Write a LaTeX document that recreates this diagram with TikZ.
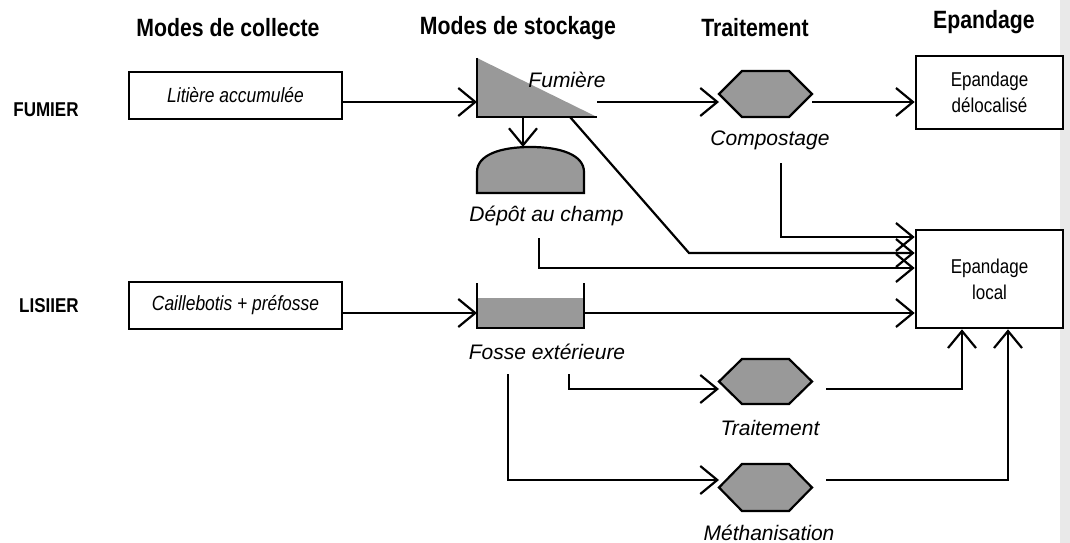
\documentclass[tikz,border=0pt]{standalone}
\usepackage{fontspec}
\setmainfont{Liberation Sans}
\newfontfamily\nf[FakeStretch=0.85]{Liberation Sans}
\usetikzlibrary{arrows.meta}
\definecolor{shapegray}{RGB}{153,153,153}
\definecolor{stripgray}{RGB}{233,233,233}
\tikzset{
  conn/.style={line width=2.2pt},
  arr/.style={line width=2.2pt,-{Straight Barb[length=17pt,width=28pt,line width=2.2pt]}},
  boxnode/.style={draw,line width=2.6pt,fill=white,inner sep=0pt},
  ghost/.style={inner sep=0pt,outer sep=0pt},
  header/.style={font=\nf\bfseries\fontsize{25}{28}\selectfont},
  sidelab/.style={font=\nf\bfseries\fontsize{20}{24}\selectfont},
  boxtext/.style={font=\nf\itshape\fontsize{20.5}{24}\selectfont},
  eptext/.style={font=\nf\fontsize{20}{26}\selectfont,align=center},
  lab/.style={font=\itshape\fontsize{21}{25}\selectfont},
  shapeline/.style={line width=2.2pt,line join=miter},
}
\begin{document}
\begin{tikzpicture}[x=1pt,y=-1pt]
\useasboundingbox (0,0) rectangle (1070,543);
\fill[stripgray] (1060,0) rectangle (1070,543);

% headers
\node[header] (hcol) at (228,28) {Modes de collecte};
\node[header] (hsto) at (518,28) {Modes de stockage};
\node[header] (htra) at (755,28) {Traitement};
\node[header] (hepa) at (984,22) {Epandage};

% side labels
\node[sidelab] (fum) at (46,110) {FUMIER};
\node[sidelab] (lis) at (49,306) {LISIIER};

% collection boxes
\node[boxnode,minimum width=213pt,minimum height=47pt,boxtext] (lit) at (235.5,95.5) {Litière accumulée};
\node[boxnode,minimum width=213pt,minimum height=47pt,boxtext] (cail) at (235.5,305.5) {Caillebotis + préfosse};

% spreading boxes
\node[boxnode,minimum width=147pt,minimum height=73pt,eptext] (deloc) at (989.5,92.5) {Epandage\\délocalisé};
\node[boxnode,minimum width=147pt,minimum height=98pt,eptext] (local) at (989.5,279) {Epandage\\local};

% shape holders
\node[ghost,minimum width=120pt,minimum height=59pt] (fumiere) at (537,87.5) {};
\node[ghost,minimum width=107pt,minimum height=46pt] (depot) at (530.5,170) {};
\node[ghost,minimum width=107pt,minimum height=45pt] (fosse) at (530.5,305.5) {};
\node[ghost,minimum width=93pt,minimum height=46pt] (comp) at (765.5,94) {};
\node[ghost,minimum width=93pt,minimum height=45pt] (trait) at (765.5,381.5) {};
\node[ghost,minimum width=93pt,minimum height=47pt] (meth) at (765.5,487.5) {};

% triangle (fumiere)
\fill[shapegray] (fumiere.north west) -- (fumiere.south west) -- (fumiere.south east) -- cycle;
\draw[shapeline] (fumiere.north west) -- (fumiere.south west) -- (fumiere.south east);

% dome (depot)
\draw[shapeline,fill=shapegray] (depot.south west) -- (477,172) .. controls (477,155) and (500,147) .. (530.5,147) .. controls (561,147) and (584,155) .. (584,172) -- (depot.south east) -- cycle;

% pit (fosse)
\fill[shapegray] (477,298) rectangle (fosse.south east);
\draw[shapeline] (fosse.north west) -- (fosse.south west) -- (fosse.south east) -- (fosse.north east);

% hexagons
\foreach \h in {comp,trait,meth}{
  \draw[shapeline,fill=shapegray] (\h.west) -- ([xshift=23pt]\h.north west) -- ([xshift=-23pt]\h.north east) -- (\h.east) -- ([xshift=-23pt]\h.south east) -- ([xshift=23pt]\h.south west) -- cycle;
}

% labels
\node[lab] (lfum) at (567,80) {Fumière};
\node[lab] (ldep) at (546.5,216) {Dépôt au champ};
\node[lab] (lfos) at (547,352) {Fosse extérieure};
\node[lab] (lcomp) at (770,140) {Compostage};
\node[lab] (ltrait) at (770,428) {Traitement};
\node[lab] (lmeth) at (769,533) {Méthanisation};

% free ends
\coordinate (compout) at (781,163);
\coordinate (depout) at (539,238);
\coordinate (fosA) at (569,374);
\coordinate (fosB) at (508,374);
\coordinate (traitout) at (826,389);
\coordinate (methout) at (826,480);
\coordinate (diag) at (689,253);

% connectors
\draw[arr] (lit.east |- 0,102) -- (fumiere.west |- 0,102);
\draw[arr] (fumiere.east |- 0,102) -- (comp.west |- 0,102);
\draw[arr] (comp.east |- 0,102) -- (deloc.west |- 0,102);
\draw[arr] (fumiere.south -| 523,0) -- (523,147);
\draw[arr] (fumiere.south -| 570,0) -- (diag) -- (local.west |- diag);
\draw[arr] (compout) -- (compout |- 0,237) -- (local.west |- 0,237);
\draw[arr] (depout) -- (depout |- 0,268) -- (local.west |- 0,268);
\draw[arr] (cail.east |- 0,313) -- (fosse.west |- 0,313);
\draw[arr] (fosse.east |- 0,313) -- (local.west |- 0,313);
\draw[arr] (fosA) -- (fosA |- 0,389) -- (trait.west |- 0,389);
\draw[arr] (fosB) -- (fosB |- 0,480) -- (meth.west |- 0,480);
\draw[arr] (traitout) -- (962,389) -- (962,0 |- local.south);
\draw[arr] (methout) -- (1008,480) -- (1008,0 |- local.south);
\end{tikzpicture}
\end{document}
